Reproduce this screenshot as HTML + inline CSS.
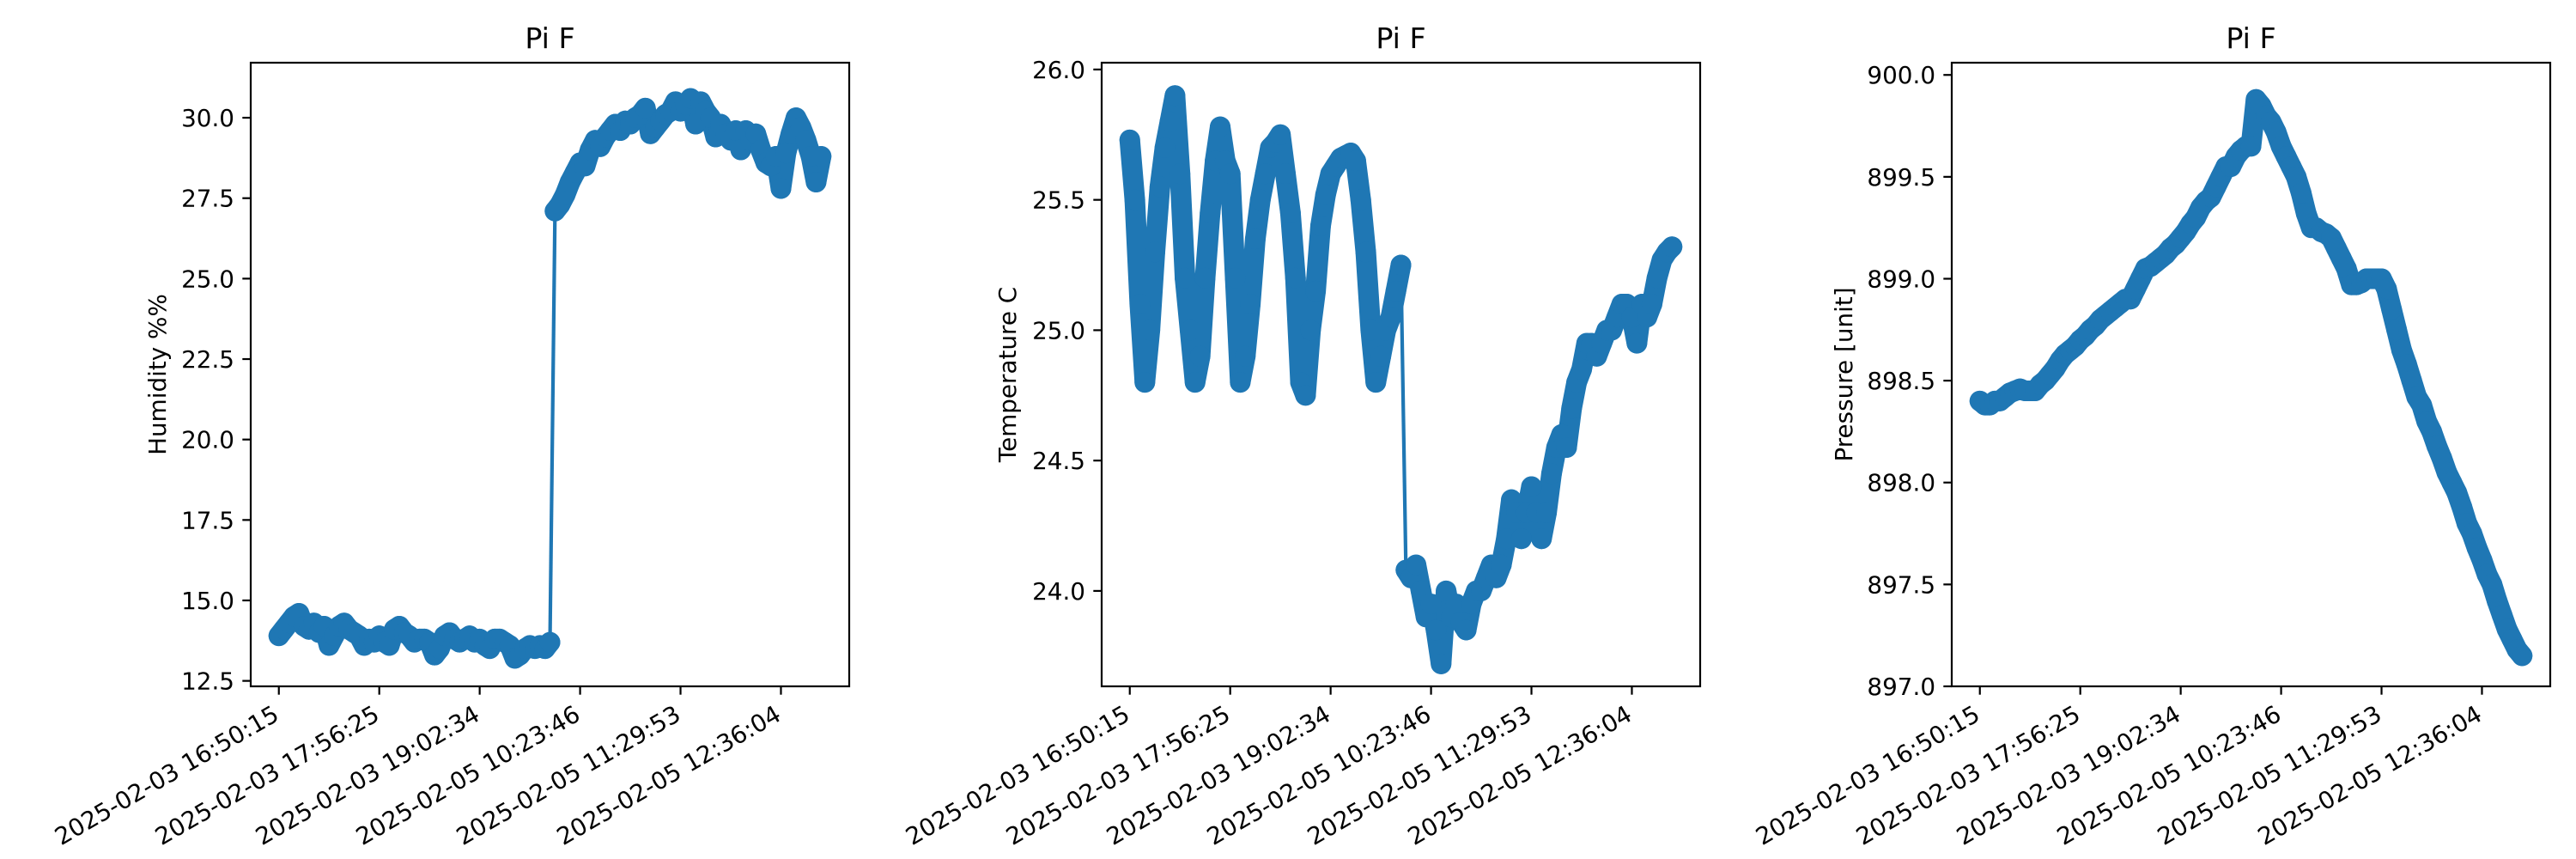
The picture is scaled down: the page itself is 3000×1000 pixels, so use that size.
<!DOCTYPE html>
<html><head><meta charset="utf-8">
<style>
html,body{margin:0;padding:0;background:#fff;}
svg{display:block;font-family:"DejaVu Sans","Liberation Sans",sans-serif;}
</style></head>
<body>
<svg id="fig" width="3000" height="1000" viewBox="0 0 3000 1000" xmlns="http://www.w3.org/2000/svg">
<rect width="3000" height="1000" fill="#fff"/>
</svg>
<script>
const tickLabels = ["2025-02-03 16:50:15","2025-02-03 17:56:25","2025-02-03 19:02:34","2025-02-05 10:23:46","2025-02-05 11:29:53","2025-02-05 12:36:04"];
const tickIdx = [0,100,200,300,400,500];
const sampleStep = 5;
const humidity = [
13.9,14.1,14.3,14.5,14.6,14.2,14.1,14.3,14.0,14.2,
13.6,13.9,14.2,14.3,14.1,14.0,13.9,13.6,13.8,13.7,
13.9,13.7,13.6,14.1,14.2,14.0,13.9,13.7,13.8,13.8,
13.7,13.3,13.5,13.9,14.0,13.8,13.7,13.8,13.9,13.7,
13.8,13.6,13.5,13.8,13.8,13.7,13.6,13.2,13.3,13.5,
13.6,13.5,13.6,13.5,13.7,27.1,27.3,27.6,28.0,28.3,
28.6,28.5,29.0,29.3,29.1,29.4,29.6,29.8,29.6,29.9,
29.8,30.0,30.1,30.3,29.5,29.7,29.9,30.1,30.2,30.5,
30.2,30.4,30.6,29.8,30.5,30.2,30.0,29.4,29.8,29.5,
29.3,29.6,29.0,29.6,29.3,29.5,29.0,28.6,28.5,28.8,
27.8,28.9,29.5,30.0,29.7,29.3,28.8,28.0,28.8];
const temperature = [
25.73,25.5,25.1,24.8,25.0,25.3,25.55,25.7,25.8,25.9,
25.6,25.2,25.0,24.8,24.9,25.2,25.45,25.65,25.78,25.65,
25.6,25.2,24.8,24.9,25.1,25.35,25.5,25.6,25.7,25.72,
25.75,25.6,25.45,25.2,24.8,24.75,25.0,25.15,25.4,25.52,
25.6,25.63,25.66,25.67,25.68,25.65,25.5,25.3,25.0,24.8,
24.9,25.0,25.05,25.15,25.25,24.08,24.05,24.1,24.0,23.9,
23.95,23.85,23.72,24.0,23.9,23.95,23.88,23.85,23.95,24.0,
24.0,24.05,24.1,24.05,24.1,24.2,24.35,24.3,24.2,24.3,
24.4,24.3,24.2,24.3,24.45,24.55,24.6,24.55,24.7,24.8,
24.85,24.95,24.95,24.9,24.95,25.0,25.0,25.05,25.1,25.1,
25.05,24.95,25.1,25.05,25.1,25.2,25.27,25.3,25.32];
const pressure = [
898.4,898.38,898.38,898.4,898.4,898.42,898.44,898.45,898.46,898.45,
898.45,898.45,898.48,898.5,898.53,898.56,898.6,898.63,898.65,898.67,
898.7,898.72,898.75,898.77,898.8,898.82,898.84,898.86,898.88,898.9,
898.9,898.95,899.0,899.05,899.06,899.08,899.1,899.12,899.15,899.17,
899.2,899.23,899.27,899.3,899.35,899.38,899.4,899.45,899.5,899.55,
899.55,899.6,899.63,899.65,899.65,899.88,899.85,899.8,899.77,899.72,
899.65,899.6,899.55,899.5,899.42,899.32,899.25,899.25,899.23,899.22,
899.2,899.15,899.1,899.05,898.97,898.97,898.98,899.0,899.0,899.0,
899.0,898.95,898.85,898.75,898.65,898.58,898.5,898.42,898.38,898.3,
898.25,898.18,898.12,898.05,898.0,897.95,897.88,897.8,897.75,897.68,
897.62,897.55,897.5,897.42,897.35,897.28,897.23,897.18,897.15];
const humTicks = [12.5,15.0,17.5,20.0,22.5,25.0,27.5,30.0];
const tempTicks = [24.0,24.5,25.0,25.5,26.0];
const presTicks = [897.0,897.5,898.0,898.5,899.0,899.5,900.0];

const NS = "http://www.w3.org/2000/svg";
const svg = document.getElementById('fig');
const C = "#1f77b4";
function el(tag, attrs, parent){const e=document.createElementNS(NS,tag);for(const k in attrs)e.setAttribute(k,attrs[k]);(parent||svg).appendChild(e);return e;}

function panel(key, left, data, yMin, yMax, yTicks, yDec, ylabel, ylabelX){
  const top=73, bottom=799, width=697;
  const xMin=-28, xMax=568;
  const g = el('g',{});
  
  
  const X = i => left + (i - xMin)/(xMax - xMin)*width;
  const Y = v => bottom - (v - yMin)/(yMax - yMin)*(bottom - top);
  const sg = el('g',{}, g);
  
  
  const range = yMax - yMin;
  let seg=[];
  const segs=[];
  for(let i=0;i<data.length;i++){
    if(i>0 && Math.abs(data[i]-data[i-1]) > 0.2*range){
      segs.push(seg); seg=[];
      const jl = el('line',{x1:X((i-1)*sampleStep),y1:Y(data[i-1]),x2:X(i*sampleStep),y2:Y(data[i]),stroke:C,'stroke-width':4.2},sg);
      
      
    }
    seg.push([X(i*sampleStep),Y(data[i])]);
  }
  segs.push(seg);
  segs.forEach(s=>{
    const p = el('polyline',{points:s.map(q=>q.join(',')).join(' '),fill:'none',stroke:C,'stroke-width':24,'stroke-linejoin':'round','stroke-linecap':'round'},sg);
    
    
  });
  data.forEach((v,i)=>{
    const c = el('circle',{cx:X(i*sampleStep),cy:Y(v),r:12,fill:C},sg);
    
    
  });
  const f = el('rect',{x:left,y:top,width:width,height:bottom-top,fill:'none',stroke:'#000','stroke-width':2.2},g);
  
  
  yTicks.forEach(t=>{
    const y=Y(t);
    el('line',{x1:left-9.7,y1:y,x2:left,y2:y,stroke:'#000','stroke-width':2.2},g);
    const tx = el('text',{x:left-19,y:y+10,'text-anchor':'end','font-size':27.8,fill:'#000'},g);
    tx.textContent = t.toFixed(yDec);
    
    
  });
  tickIdx.forEach((ti,k)=>{
    const x=X(ti);
    el('line',{x1:x,y1:bottom,x2:x,y2:bottom+9.7,stroke:'#000','stroke-width':2.2},g);
    const tx = el('text',{x:0,y:0,'text-anchor':'end','font-size':27.8,fill:'#000',transform:`translate(${x+2},${bottom+38}) rotate(-30)`},g);
    tx.textContent = tickLabels[k];
    
    
  });
  const yl = el('text',{x:0,y:0,'text-anchor':'middle','font-size':27.8,fill:'#000',transform:`translate(${ylabelX},${(top+bottom)/2}) rotate(-90)`},g);
  yl.textContent = ylabel;
  
  
  const tt = el('text',{x:left+width/2,y:56,'text-anchor':'middle','font-size':33.3,fill:'#000'},g);
  tt.textContent = 'Pi F';
  
  
}
panel('humidity', 292, humidity, 12.33, 31.71, humTicks, 1, 'Humidity %%', 193);
panel('temperature', 1283, temperature, 23.634, 26.026, tempTicks, 1, 'Temperature C', 1183);
panel('pressure', 2273, pressure, 897.0, 900.06, presTicks, 1, 'Pressure [unit]', 2157);
</script>
</body></html>
